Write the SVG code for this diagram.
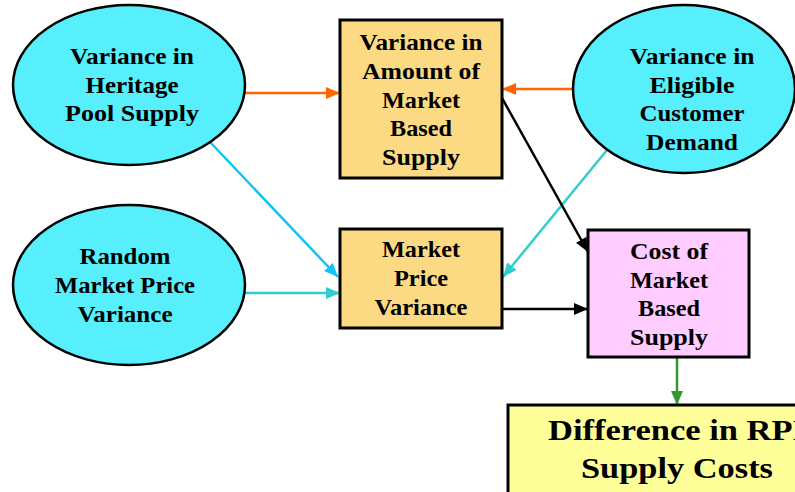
<svg xmlns="http://www.w3.org/2000/svg" width="795" height="492" viewBox="0 0 795 492">
<style>
  .ell { fill: #56EFFB; stroke: #000; stroke-width: 2.5; }
  .box { fill: #FCDA84; stroke: #000; stroke-width: 3; }
  .cost { fill: #FFCCFF; stroke: #000; stroke-width: 3; }
  .diff { fill: #FFFF99; stroke: #000; stroke-width: 3; }
  text { font-family: "Liberation Serif", "DejaVu Serif", serif; font-weight: bold; font-size: 23px; fill: #000; text-anchor: middle; }
  .big { font-size: 30px; }
  .c { fill: none; stroke-width: 2.5; }
</style>
<defs>
  <marker id="aO" viewBox="0 0 14 12" refX="14" refY="6" markerWidth="14" markerHeight="12" markerUnits="userSpaceOnUse" orient="auto"><path d="M0,0 L14,6 L0,12 z" fill="#FF6600"/></marker>
  <marker id="aB" viewBox="0 0 14 12" refX="14" refY="6" markerWidth="14" markerHeight="12" markerUnits="userSpaceOnUse" orient="auto"><path d="M0,0 L14,6 L0,12 z" fill="#10C4F4"/></marker>
  <marker id="aT" viewBox="0 0 14 12" refX="14" refY="6" markerWidth="14" markerHeight="12" markerUnits="userSpaceOnUse" orient="auto"><path d="M0,0 L14,6 L0,12 z" fill="#33CCCC"/></marker>
  <marker id="aK" viewBox="0 0 14 12" refX="14" refY="6" markerWidth="14" markerHeight="12" markerUnits="userSpaceOnUse" orient="auto"><path d="M0,0 L14,6 L0,12 z" fill="#000"/></marker>
  <marker id="aG" viewBox="0 0 14 12" refX="14" refY="6" markerWidth="14" markerHeight="12" markerUnits="userSpaceOnUse" orient="auto"><path d="M0,0 L14,6 L0,12 z" fill="#339933"/></marker>
</defs>

<g id="connectors">
  <line class="c" x1="245" y1="93" x2="340" y2="93" stroke="#FF6600" marker-end="url(#aO)"/>
  <line class="c" x1="573" y1="89" x2="502" y2="89" stroke="#FF6600" marker-end="url(#aO)"/>
  <line class="c" x1="210" y1="142" x2="338" y2="277" stroke="#10C4F4" marker-end="url(#aB)"/>
  <line class="c" x1="245" y1="293" x2="340" y2="293" stroke="#33CCCC" marker-end="url(#aT)"/>
  <line class="c" x1="607" y1="150" x2="503" y2="277" stroke="#33CCCC" marker-end="url(#aT)"/>
  <line class="c" x1="502" y1="98" x2="588" y2="252" stroke="#000" marker-end="url(#aK)"/>
  <line class="c" x1="502" y1="309" x2="588" y2="309" stroke="#000" marker-end="url(#aK)"/>
  <line class="c" x1="677" y1="357" x2="677" y2="405" stroke="#339933" marker-end="url(#aG)"/>
</g>

<g id="heritage">
  <ellipse class="ell" cx="129" cy="85" rx="116" ry="80"/>
  <text x="132" y="64" textLength="124" lengthAdjust="spacingAndGlyphs">Variance in</text>
  <text x="132" y="93" textLength="93" lengthAdjust="spacingAndGlyphs">Heritage</text>
  <text x="132" y="121" textLength="134" lengthAdjust="spacingAndGlyphs">Pool Supply</text>
</g>

<g id="random">
  <ellipse class="ell" cx="129" cy="285" rx="116" ry="80"/>
  <text x="125" y="264" textLength="91" lengthAdjust="spacingAndGlyphs">Random</text>
  <text x="125" y="293" textLength="140" lengthAdjust="spacingAndGlyphs">Market Price</text>
  <text x="125" y="322" textLength="95" lengthAdjust="spacingAndGlyphs">Variance</text>
</g>

<g id="eligible">
  <ellipse class="ell" cx="684" cy="89" rx="111" ry="84"/>
  <text x="692" y="64" textLength="125" lengthAdjust="spacingAndGlyphs">Variance in</text>
  <text x="692" y="93" textLength="85" lengthAdjust="spacingAndGlyphs">Eligible</text>
  <text x="692" y="121" textLength="105" lengthAdjust="spacingAndGlyphs">Customer</text>
  <text x="692" y="150" textLength="92" lengthAdjust="spacingAndGlyphs">Demand</text>
</g>

<g id="amount">
  <rect class="box" x="340" y="20" width="162" height="158"/>
  <text x="421" y="50" textLength="123" lengthAdjust="spacingAndGlyphs">Variance in</text>
  <text x="421" y="79" textLength="118" lengthAdjust="spacingAndGlyphs">Amount of</text>
  <text x="421" y="108" textLength="78" lengthAdjust="spacingAndGlyphs">Market</text>
  <text x="421" y="136" textLength="62" lengthAdjust="spacingAndGlyphs">Based</text>
  <text x="421" y="165" textLength="78" lengthAdjust="spacingAndGlyphs">Supply</text>
</g>

<g id="price">
  <rect class="box" x="340" y="229" width="162" height="99"/>
  <text x="421" y="257" textLength="78" lengthAdjust="spacingAndGlyphs">Market</text>
  <text x="421" y="286" textLength="54" lengthAdjust="spacingAndGlyphs">Price</text>
  <text x="421" y="315" textLength="93" lengthAdjust="spacingAndGlyphs">Variance</text>
</g>

<g id="cost">
  <rect class="cost" x="588" y="230" width="161" height="127"/>
  <text x="669" y="259" textLength="78" lengthAdjust="spacingAndGlyphs">Cost of</text>
  <text x="669" y="288" textLength="78" lengthAdjust="spacingAndGlyphs">Market</text>
  <text x="669" y="316" textLength="62" lengthAdjust="spacingAndGlyphs">Based</text>
  <text x="669" y="345" textLength="78" lengthAdjust="spacingAndGlyphs">Supply</text>
</g>

<g id="difference">
  <rect class="diff" x="508" y="405" width="338" height="100"/>
  <text class="big" x="677" y="440" textLength="258" lengthAdjust="spacingAndGlyphs">Difference in RPI</text>
  <text class="big" x="677" y="478" textLength="192" lengthAdjust="spacingAndGlyphs">Supply Costs</text>
</g>
</svg>
